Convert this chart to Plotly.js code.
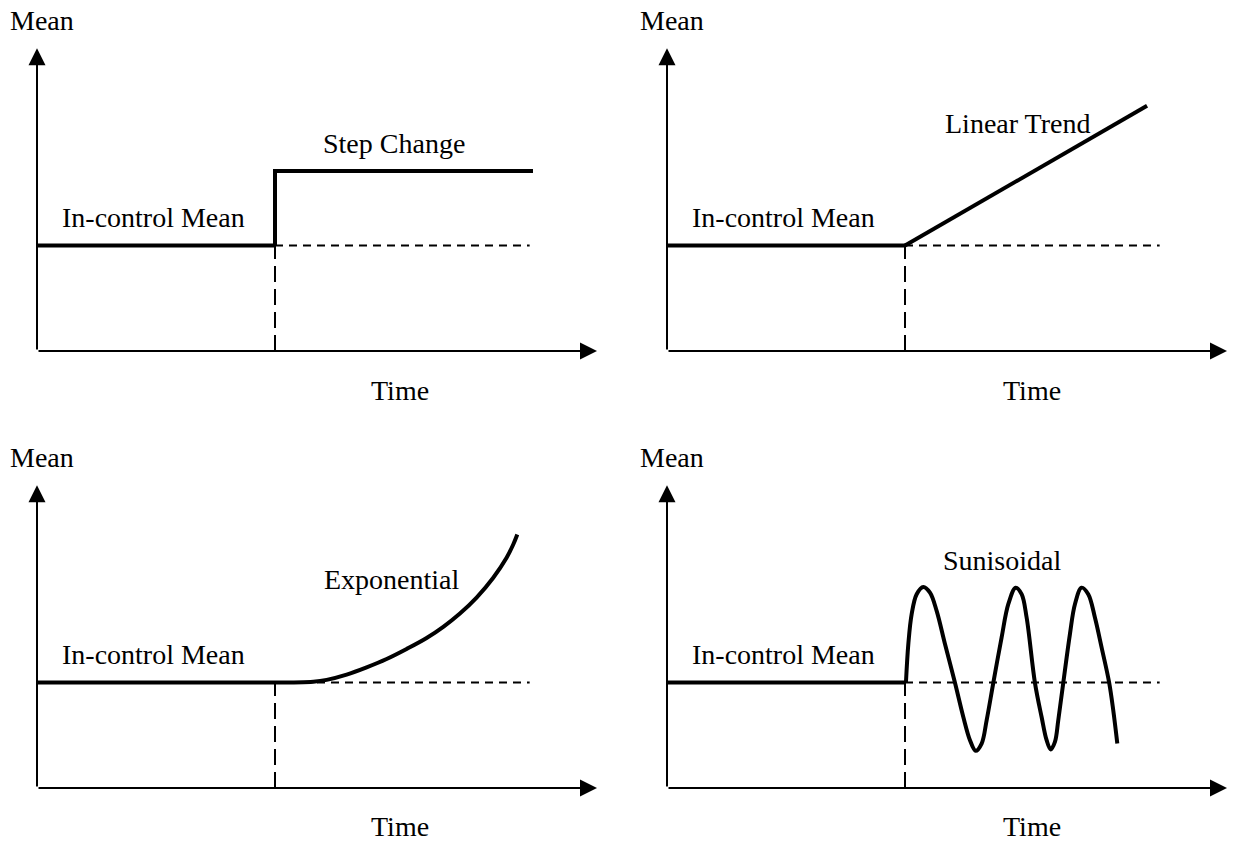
<!DOCTYPE html>
<html><head><meta charset="utf-8">
<script src="https://cdn.plot.ly/plotly-3.0.1.min.js"></script>
<style>html,body{margin:0;padding:0;background:#fff}#chart{width:1234px;height:841px}</style>
</head><body><div id="chart"></div>
<script>
// ---------- data (time units: change point = 10; mean units: in-control mean = 10) ----------
const inControlT = [0, 10];
const inControlMean = [10, 10];
const changeT = 10;
const refEndT = 20.7;
const timeMax = 23.53;
const meanMax = 28.7;

// Step change
const stepT = [10, 10, 20.84];
const stepMean = [10, 17.05, 17.05];

// Linear trend
const trendT = [10, 20.17];
const trendMean = [10, 23.24];

// Exponential
const expT = [10, 11.61, 12.17, 13.01, 13.85, 14.69, 15.53, 16.37, 17.07, 17.77, 18.47, 19.17, 19.73, 20.01, 20.18];
const expMean = [10, 10.08, 10.25, 10.75, 11.44, 12.23, 13.18, 14.22, 15.28, 16.54, 18.05, 19.93, 21.82, 23.08, 24.03];

// Sinusoidal
const sinT = [10.04, 10.14, 10.28, 10.49, 10.77, 11.05, 11.33, 11.68, 12.10, 12.45, 12.73, 12.97, 13.22, 13.43, 13.71, 14.06, 14.34, 14.65, 14.90, 15.11, 15.46, 15.74, 15.95, 16.12, 16.30, 16.44, 16.65, 16.93, 17.14, 17.42, 17.70, 17.98, 18.26, 18.58, 18.75, 18.92];
const sinMean = [10, 13.65, 16.48, 18.37, 19.06, 18.52, 16.79, 13.65, 9.97, 6.73, 4.53, 3.52, 4.21, 6.42, 9.97, 14.28, 17.42, 18.99, 18.37, 16.16, 9.97, 6.73, 4.53, 3.65, 4.37, 6.42, 9.97, 14.59, 17.42, 18.99, 18.37, 16.16, 13.33, 9.97, 7.36, 4.21];

// labels
const panelLabels = ['Step Change', 'Linear Trend', 'Exponential', 'Sunisoidal'];
const yLabel = 'Mean';
const xLabel = 'Time';
const inLabel = 'In-control Mean';

const shiftT = [stepT, trendT, expT, sinT];
const shiftMean = [stepMean, trendMean, expMean, sinMean];
const shiftShape = ['linear', 'linear', 'spline', 'spline'];

// ---------- layout geometry ----------
const W = 1234, H = 841;
const pxX = 23.8, pxY = 10.55;
const panels = [
  {ox: 37, oy: 351, l: 0, r: 615, t: 0, b: 415},
  {ox: 667, oy: 351, l: 617, r: 1234, t: 0, b: 415},
  {ox: 37, oy: 788, l: 0, r: 615, t: 421, b: 841},
  {ox: 667, oy: 788, l: 617, r: 1234, t: 421, b: 841}
];
// text positions (pixel centres)
const textPos = [
  {mean: [41.5, 20], lab: [394, 143], inc: [153, 218], time: [400, 390]},
  {mean: [671.5, 20], lab: [1017, 124], inc: [783, 218], time: [1031.5, 390]},
  {mean: [41.5, 457], lab: [391.5, 579], inc: [153, 654], time: [400, 826]},
  {mean: [671.5, 457], lab: [1002, 560], inc: [783, 654], time: [1031.5, 826]}
];

const font = {family: '"Liberation Serif", "Times New Roman", Times, serif', size: 28, color: '#000'};
const traces = [];
const layout = {
  width: W, height: H,
  margin: {l: 0, r: 0, t: 0, b: 0},
  paper_bgcolor: '#fff', plot_bgcolor: 'rgba(0,0,0,0)',
  showlegend: false,
  annotations: []
};

panels.forEach((p, i) => {
  const n = i + 1;
  const xa = 'x' + (n === 1 ? '' : n), ya = 'y' + (n === 1 ? '' : n);
  const xk = 'xaxis' + (n === 1 ? '' : n), yk = 'yaxis' + (n === 1 ? '' : n);
  const axCommon = {showgrid: false, zeroline: false, showticklabels: false, ticks: '', showline: false, fixedrange: true};
  layout[xk] = Object.assign({}, axCommon, {
    domain: [p.l / W, p.r / W],
    range: [(p.l - p.ox) / pxX, (p.r - p.ox) / pxX],
    anchor: ya
  });
  layout[yk] = Object.assign({}, axCommon, {
    domain: [1 - p.b / H, 1 - p.t / H],
    range: [(p.oy - p.b) / pxY, (p.oy - p.t) / pxY],
    anchor: xa
  });
  const base = {type: 'scatter', mode: 'lines', xaxis: xa, yaxis: ya, hoverinfo: 'skip', cliponaxis: false};
  // dashed reference lines
  traces.push(Object.assign({}, base, {x: [changeT, refEndT], y: [inControlMean[0], inControlMean[0]],
    line: {color: '#000', width: 2, dash: '8px,6px'}}));
  traces.push(Object.assign({}, base, {x: [changeT, changeT], y: [0, inControlMean[0]],
    line: {color: '#000', width: 2, dash: '16px,7px'}}));
  // in-control mean
  traces.push(Object.assign({}, base, {x: inControlT, y: inControlMean, line: {color: '#000', width: 4}}));
  // shifted mean
  traces.push(Object.assign({}, base, {x: shiftT[i], y: shiftMean[i],
    line: {color: '#000', width: 4, shape: shiftShape[i], smoothing: 1}}));

  // axis arrows
  const arr = {xref: xa, yref: ya, axref: xa, ayref: ya, text: '', showarrow: true,
    arrowhead: 2, arrowsize: 1.7, arrowwidth: 2, arrowcolor: '#000', standoff: 0, startstandoff: 0};
  layout.annotations.push(Object.assign({}, arr, {x: timeMax, y: 0, ax: 0, ay: 0}));
  layout.annotations.push(Object.assign({}, arr, {x: 0, y: meanMax, ax: 0, ay: 0}));

  const tp = textPos[i];
  const txt = (pos, s) => ({xref: 'paper', yref: 'paper', x: pos[0] / W, y: 1 - pos[1] / H,
    xanchor: 'center', yanchor: 'middle', text: s, showarrow: false, font: font});
  layout.annotations.push(txt(tp.mean, yLabel));
  layout.annotations.push(txt(tp.lab, panelLabels[i]));
  layout.annotations.push(txt(tp.inc, inLabel));
  layout.annotations.push(txt(tp.time, xLabel));
});

Plotly.newPlot('chart', traces, layout, {staticPlot: true, displayModeBar: false});
</script>
</body></html>
